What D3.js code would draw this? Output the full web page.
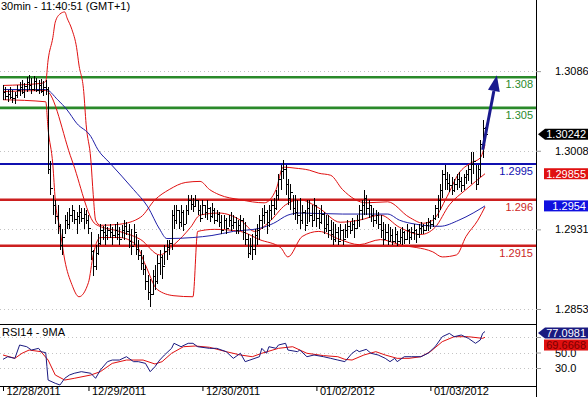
<!DOCTYPE html>
<html><head><meta charset="utf-8">
<script src="https://cdn.jsdelivr.net/npm/d3@7"></script>
<style>body{margin:0;background:#fff;} svg{display:block;font-family:"Liberation Sans",Arial,sans-serif;}</style>
</head><body><svg id="c" width="588" height="397"></svg>
<script>
// ---------- DATA ----------
const title = "30min - 11:40:51 (GMT+1)";
const rsiTitle = "RSI14 - 9MA";
const highs = [
1.3072,1.3070,1.3068,1.3070,1.3068,1.3066,1.3072,1.3075,1.3077,1.3074,
1.3080,1.3082,1.3079,1.3081,1.3079,1.3077,1.3078,1.3076,1.3077,1.3070,
1.2998,1.2965,1.2960,1.2955,1.2936,1.2931,1.2945,1.2948,1.2952,1.2955,
1.2950,1.2948,1.2955,1.2952,1.2952,1.2950,1.2945,1.2928,1.2911,1.2916,
1.2926,1.2936,1.2934,1.2936,1.2933,1.2936,1.2933,1.2936,1.2938,1.2933,
1.2935,1.2940,1.2938,1.2936,1.2931,1.2936,1.2926,1.2921,1.2911,1.2906,
1.2896,1.2886,1.2882,1.2891,1.2896,1.2906,1.2911,1.2906,1.2916,1.2921,
1.2921,1.2950,1.2955,1.2955,1.2950,1.2955,1.2950,1.2955,1.2965,1.2965,
1.2962,1.2965,1.2960,1.2955,1.2960,1.2955,1.2960,1.2953,1.2957,1.2952,
1.2950,1.2948,1.2945,1.2945,1.2942,1.2945,1.2948,1.2945,1.2943,1.2940,
1.2945,1.2942,1.2938,1.2926,1.2923,1.2926,1.2931,1.2936,1.2945,1.2952,
1.2955,1.2950,1.2955,1.2960,1.2962,1.2970,1.2985,1.2994,1.2999,1.2994,
1.2980,1.2975,1.2965,1.2965,1.2960,1.2962,1.2955,1.2950,1.2960,1.2960,
1.2955,1.2962,1.2955,1.2950,1.2955,1.2948,1.2945,1.2945,1.2940,1.2938,
1.2936,1.2933,1.2936,1.2931,1.2936,1.2940,1.2938,1.2942,1.2940,1.2945,
1.2955,1.2960,1.2970,1.2965,1.2960,1.2955,1.2952,1.2950,1.2948,1.2945,
1.2938,1.2936,1.2936,1.2933,1.2931,1.2933,1.2929,1.2931,1.2933,1.2929,
1.2936,1.2931,1.2933,1.2936,1.2931,1.2936,1.2938,1.2936,1.2938,1.2942,
1.2940,1.2945,1.2955,1.2965,1.2975,1.2989,1.2994,1.2987,1.2985,1.2982,
1.2980,1.2985,1.2987,1.2982,1.2985,1.2989,1.2994,1.3007,1.3007,1.2994,
1.2994,1.3019,1.3038,1.3031];
const lows = [
1.3058,1.3058,1.3056,1.3059,1.3055,1.3054,1.3060,1.3062,1.3064,1.3060,
1.3066,1.3068,1.3064,1.3067,1.3066,1.3064,1.3065,1.3062,1.3063,1.2985,
1.2965,1.2945,1.2936,1.2926,1.2911,1.2906,1.2926,1.2931,1.2931,1.2938,
1.2936,1.2926,1.2936,1.2938,1.2931,1.2936,1.2926,1.2901,1.2885,1.2891,
1.2906,1.2916,1.2921,1.2916,1.2921,1.2923,1.2916,1.2923,1.2921,1.2916,
1.2923,1.2921,1.2925,1.2913,1.2906,1.2916,1.2906,1.2901,1.2891,1.2886,
1.2872,1.2862,1.2855,1.2867,1.2872,1.2877,1.2886,1.2882,1.2896,1.2901,
1.2906,1.2911,1.2931,1.2936,1.2931,1.2933,1.2929,1.2936,1.2945,1.2950,
1.2948,1.2953,1.2945,1.2938,1.2945,1.2942,1.2940,1.2938,1.2942,1.2936,
1.2938,1.2933,1.2926,1.2931,1.2926,1.2933,1.2929,1.2931,1.2926,1.2926,
1.2929,1.2921,1.2916,1.2903,1.2906,1.2901,1.2906,1.2916,1.2921,1.2931,
1.2936,1.2926,1.2933,1.2940,1.2945,1.2950,1.2960,1.2970,1.2980,1.2965,
1.2955,1.2950,1.2945,1.2940,1.2936,1.2931,1.2936,1.2929,1.2936,1.2938,
1.2933,1.2940,1.2933,1.2931,1.2936,1.2926,1.2928,1.2923,1.2921,1.2916,
1.2919,1.2916,1.2921,1.2916,1.2923,1.2923,1.2926,1.2929,1.2923,1.2931,
1.2933,1.2940,1.2945,1.2945,1.2942,1.2938,1.2933,1.2936,1.2931,1.2923,
1.2916,1.2921,1.2916,1.2919,1.2916,1.2918,1.2915,1.2917,1.2916,1.2917,
1.2921,1.2917,1.2921,1.2921,1.2918,1.2923,1.2926,1.2926,1.2929,1.2929,
1.2931,1.2933,1.2940,1.2942,1.2950,1.2962,1.2970,1.2970,1.2968,1.2965,
1.2968,1.2970,1.2972,1.2968,1.2970,1.2975,1.2978,1.2975,1.2985,1.2970,
1.2975,1.2982,1.3001,1.3019];
const closes = [
1.3066,1.3062,1.3064,1.3061,1.3060,1.3063,1.3068,1.3070,1.3066,1.3071,
1.3075,1.3072,1.3069,1.3076,1.3068,1.3072,1.3067,1.3070,1.3069,1.2990,
1.2972,1.2955,1.2944,1.2934,1.2916,1.2924,1.2940,1.2936,1.2945,1.2950,
1.2941,1.2944,1.2948,1.2942,1.2946,1.2940,1.2932,1.2910,1.2895,1.2908,
1.2918,1.2930,1.2928,1.2925,1.2930,1.2928,1.2925,1.2930,1.2926,1.2922,
1.2930,1.2934,1.2929,1.2920,1.2915,1.2928,1.2912,1.2906,1.2898,1.2892,
1.2880,1.2870,1.2868,1.2885,1.2880,1.2898,1.2904,1.2895,1.2910,1.2914,
1.2918,1.2945,1.2940,1.2950,1.2938,1.2948,1.2936,1.2950,1.2960,1.2956,
1.2954,1.2960,1.2950,1.2942,1.2955,1.2948,1.2952,1.2944,1.2950,1.2940,
1.2946,1.2938,1.2930,1.2940,1.2932,1.2940,1.2935,1.2938,1.2930,1.2935,
1.2940,1.2928,1.2922,1.2908,1.2915,1.2912,1.2925,1.2930,1.2940,1.2945,
1.2948,1.2938,1.2950,1.2955,1.2952,1.2965,1.2980,1.2988,1.2990,1.2975,
1.2962,1.2968,1.2952,1.2948,1.2945,1.2940,1.2948,1.2935,1.2952,1.2945,
1.2940,1.2955,1.2942,1.2938,1.2946,1.2932,1.2936,1.2930,1.2926,1.2922,
1.2928,1.2920,1.2930,1.2922,1.2930,1.2934,1.2930,1.2936,1.2932,1.2940,
1.2950,1.2955,1.2962,1.2952,1.2955,1.2945,1.2940,1.2945,1.2936,1.2930,
1.2922,1.2928,1.2920,1.2925,1.2920,1.2926,1.2920,1.2924,1.2928,1.2922,
1.2930,1.2924,1.2928,1.2930,1.2926,1.2932,1.2934,1.2930,1.2935,1.2938,
1.2936,1.2942,1.2952,1.2960,1.2970,1.2985,1.2980,1.2976,1.2974,1.2970,
1.2975,1.2980,1.2978,1.2974,1.2982,1.2985,1.2990,1.2995,1.2998,1.2975,
1.2990,1.3015,1.3030,1.30242];

// Bollinger bands and moving average: [bar index, price]
const bbUpper = [[0,1.3072],[16,1.3074],[18,1.3076],[19,1.3097],[21,1.3119],[22,1.3134],[24,1.3142],[26,1.3144],[27,1.3138],[29,1.3127],[31,1.3109],[32,1.3092],[34,1.3066],[35,1.3034],[37,1.2999],[38,1.2965],[39,1.2940],[41,1.2935],[49,1.2936],[58,1.2943],[64,1.2960],[70,1.2970],[77,1.2977],[83,1.2978],[87,1.2970],[91,1.2965],[100,1.2960],[110,1.2957],[115,1.2970],[118,1.2992],[123,1.2991],[129,1.2989],[133,1.2986],[138,1.2984],[143,1.2970],[153,1.2957],[162,1.2958],[171,1.2943],[177,1.2937],[181,1.2940],[187,1.2963],[192,1.2986],[197,1.2996],[201,1.3001],[203,1.3014]];
const bbMid = [[0,1.3066],[18,1.3067],[29,1.2999],[39,1.2936],[49,1.2929],[58,1.2921],[66,1.2906],[72,1.2916],[79,1.2933],[83,1.2945],[91,1.2947],[100,1.2940],[106,1.2929],[112,1.2938],[119,1.2955],[125,1.2960],[133,1.2952],[142,1.2938],[150,1.2940],[159,1.2945],[167,1.2933],[176,1.2926],[182,1.2933],[188,1.2955],[195,1.2970],[203,1.29855]];
const bbLower = [[0,1.3058],[18,1.3056],[19,1.3029],[21,1.2994],[22,1.2960],[24,1.2931],[26,1.2901],[29,1.2877],[32,1.2865],[36,1.2879],[38,1.2906],[40,1.2921],[41,1.2923],[49,1.2923],[56,1.2916],[60,1.2896],[65,1.2872],[72,1.2866],[80,1.2865],[82,1.2929],[89,1.2931],[100,1.2929],[108,1.2921],[117,1.2913],[120,1.2904],[126,1.2924],[133,1.2929],[142,1.2921],[150,1.2916],[159,1.2921],[167,1.2916],[181,1.2909],[185,1.2904],[191,1.2906],[195,1.2924],[200,1.2940],[203,1.2953]];
const maLine = [[0,1.3068],[18,1.3068],[23,1.3058],[27,1.3048],[31,1.3035],[37,1.3022],[40,1.3009],[45,1.2996],[55,1.2970],[61,1.2953],[66,1.2931],[69,1.2922],[80,1.2923],[88,1.2925],[97,1.2929],[108,1.2932],[114,1.2937],[120,1.2945],[125,1.2947],[143,1.2946],[162,1.2946],[167,1.2940],[174,1.2936],[184,1.2934],[192,1.2940],[198,1.2947],[203,1.2954]];

// RSI(14) and its 9-period MA: [bar index, value]
const rsi = [[0,41.2],[2,44.6],[5,42.5],[7,59.7],[10,57.5],[12,53.2],[15,55.4],[16,51.1],[18,49.8],[18.5,31.7],[19,14.5],[22,10.3],[24,8.1],[26,16.7],[28,21],[30,23.2],[33,25.3],[37,23.2],[39,16.7],[41,27.4],[44,38.2],[46,40.3],[49,40.3],[52,44.6],[55,38.2],[57,38.2],[60,36],[62,25.3],[64,31.7],[66,40.3],[68,46.8],[71,55.4],[72,61.9],[75,57.5],[78,61.9],[80,61.9],[82,57.5],[87,55.4],[90,55.4],[94,51.1],[97,42.5],[100,49],[102,38.2],[104,40.3],[108,44.6],[109,55.4],[111,49],[112,57.5],[115,55.4],[116,59.7],[119,61.9],[120,53.2],[124,51.1],[125,53.2],[128,44.6],[131,46.8],[135,44.6],[138,42.5],[141,40.3],[144,38.2],[147,49],[149,53.2],[150,51.1],[153,54.1],[155,49],[158,46.8],[161,42.5],[163,38.2],[165,42.5],[166,38.2],[169,44.6],[172,44.6],[176,44.6],[179,49],[182,57.5],[185,70.4],[188,74.7],[190,70.4],[193,72.6],[196,68.3],[198,64],[199,61.9],[201,66.1],[202,74.7],[203,77.0981]];
const rsiMa = [[0,46.8],[5,42.5],[8,49],[11,53.2],[16,51.1],[19,40.3],[22,21],[26,14.5],[30,16.7],[37,21],[41,25.3],[46,36],[52,40.3],[59,40.3],[64,35.2],[67,38.2],[71,49],[76,57.5],[81,58.4],[87,56.7],[94,51.1],[100,46.8],[105,44.6],[109,49],[116,55.4],[122,57.5],[128,49],[135,46],[141,44.6],[144,41.2],[147,40.3],[152,46.8],[157,51.1],[161,46.8],[166,42.5],[171,42.5],[176,44.6],[180,51.1],[185,64],[190,70.4],[196,70.4],[202,68.3],[203,69.6668]];

const levels = [1.308, 1.305, 1.2995, 1.296, 1.2915];
const levelLabels = ["1.308", "1.305", "1.2995", "1.296", "1.2915"];
const priceTicks = [1.3086, 1.3008, 1.2931, 1.2853];
const rsiGrid = [70, 50, 30];
const rsiTickLabels = [50, 30];
const dateTicks = [0, 36, 84, 132, 180];
const dateLabels = ["12/28/2011", "12/29/2011", "12/30/2011", "01/02/2012", "01/03/2012"];
const lastPrice = 1.30242, lastMid = 1.29855, lastMa = 1.2954;
const lastRsi = 77.0981, lastRsiMa = 69.6668;
const arrowPts = [[202, 1.3009], [208, 1.3082]];

// ---------- STYLE / LAYOUT ----------
const levelColor = ["#2a8a2a", "#2a8a2a", "#1010b0", "#cc1f1f", "#cc1f1f"];
const svg = d3.select("#c");
const plotR = 536, mainB = 324, rsiT = 324, rsiB = 386;
const x = d3.scaleLinear().domain([0, 203]).range([3, 485]);
const y = d3.scaleLinear().domain([1.28383, 1.31557]).range([mainB, 0]);
const yr = d3.scaleLinear().domain([6.8, 86.8]).range([rsiB, rsiT]);

const defs = svg.append("defs");
defs.append("clipPath").attr("id", "cm").append("rect").attr("x", 0).attr("y", 0).attr("width", plotR).attr("height", mainB);
defs.append("clipPath").attr("id", "cr").append("rect").attr("x", 0).attr("y", rsiT).attr("width", plotR).attr("height", rsiB - rsiT);

// gridlines
svg.append("g").selectAll("line").data(priceTicks).join("line")
  .attr("x1", 0).attr("x2", plotR).attr("y1", d => Math.round(y(d)) + 0.5).attr("y2", d => Math.round(y(d)) + 0.5)
  .attr("stroke", "#c4c4c4").attr("stroke-dasharray", "1,3");
svg.append("g").selectAll("line").data(rsiGrid).join("line")
  .attr("x1", 0).attr("x2", plotR).attr("y1", d => Math.round(yr(d)) + 0.5).attr("y2", d => Math.round(yr(d)) + 0.5)
  .attr("stroke", "#c4c4c4").attr("stroke-dasharray", "1,3");

const main = svg.append("g").attr("clip-path", "url(#cm)");
// level lines
main.selectAll("line.lv").data(levels).join("line").attr("class", "lv")
  .attr("x1", 0).attr("x2", plotR).attr("y1", d => y(d)).attr("y2", d => y(d))
  .attr("stroke", (d, i) => levelColor[i]).attr("stroke-width", (d, i) => i === 2 ? 2 : 2.6);
main.selectAll("text.lv").data(levels).join("text").attr("class", "lv")
  .attr("x", 533).attr("y", d => y(d) + 11).attr("text-anchor", "end")
  .attr("font-size", 11).attr("fill", (d, i) => levelColor[i]).text((d, i) => levelLabels[i]);

const line = d3.line().x(d => x(d[0])).y(d => y(d[1])).curve(d3.curveMonotoneX);
[bbUpper, bbMid, bbLower].forEach(s => main.append("path").attr("d", line(s))
  .attr("fill", "none").attr("stroke", "#e01010").attr("stroke-width", 1));
main.append("path").attr("d", line(maLine)).attr("fill", "none").attr("stroke", "#2020a8").attr("stroke-width", 1);

// HLC bars
const bars = main.append("g").attr("stroke", "#000").attr("stroke-width", 1).attr("shape-rendering", "crispEdges");
closes.forEach((c, i) => {
  const xx = Math.round(x(i)) + 0.5;
  bars.append("line").attr("x1", xx).attr("x2", xx).attr("y1", y(highs[i])).attr("y2", y(lows[i]));
  bars.append("line").attr("x1", xx).attr("x2", xx + 2).attr("y1", Math.round(y(c)) + 0.5).attr("y2", Math.round(y(c)) + 0.5);
});

// arrow
{
  const [a, b] = arrowPts.map(p => [x(p[0]), y(p[1])]);
  const ang = Math.atan2(b[1] - a[1], b[0] - a[0]);
  const L = 16, Wd = 6;
  const bx = b[0] - L * Math.cos(ang), by = b[1] - L * Math.sin(ang);
  const nx = -Math.sin(ang), ny = Math.cos(ang);
  svg.append("line").attr("x1", a[0]).attr("y1", a[1]).attr("x2", bx).attr("y2", by)
    .attr("stroke", "#1a1a8e").attr("stroke-width", 3);
  svg.append("path").attr("d", `M${b[0]},${b[1]}L${bx + nx * Wd},${by + ny * Wd}L${bx - nx * Wd},${by - ny * Wd}Z`)
    .attr("fill", "#1a1a8e");
}

// RSI panel
const rg = svg.append("g").attr("clip-path", "url(#cr)");
const rline = d3.line().x(d => x(d[0])).y(d => yr(d[1]));
rg.append("path").attr("d", rline(rsiMa)).attr("fill", "none").attr("stroke", "#e01010").attr("stroke-width", 1);
rg.append("path").attr("d", rline(rsi)).attr("fill", "none").attr("stroke", "#1a1a80").attr("stroke-width", 1);

// frame lines
svg.append("line").attr("x1", 0).attr("x2", plotR).attr("y1", rsiT + 0.5).attr("y2", rsiT + 0.5).attr("stroke", "#000");
svg.append("line").attr("x1", 0).attr("x2", plotR).attr("y1", rsiB + 0.5).attr("y2", rsiB + 0.5).attr("stroke", "#000");
svg.append("line").attr("x1", plotR + 0.5).attr("x2", plotR + 0.5).attr("y1", 0).attr("y2", 397).attr("stroke", "#000");

// axes
const ra = svg.append("g").attr("transform", `translate(${plotR},0)`)
  .call(d3.axisRight(y).tickValues(priceTicks).tickSize(5).tickPadding(14).tickFormat(d3.format(".4f")));
ra.select(".domain").remove();
ra.selectAll("line").attr("stroke", "#999");
ra.selectAll("text").attr("font-size", 11).attr("font-family", "Liberation Sans, Arial, sans-serif").attr("fill", "#000");

const rra = svg.append("g").attr("transform", `translate(${plotR},0)`)
  .call(d3.axisRight(yr).tickValues(rsiGrid).tickSize(5).tickPadding(14).tickFormat(d => rsiTickLabels.includes(d) ? d3.format(".1f")(d) : ""));
rra.select(".domain").remove();
rra.selectAll("line").attr("stroke", "#999");
rra.selectAll("text").attr("font-size", 11).attr("font-family", "Liberation Sans, Arial, sans-serif").attr("fill", "#000");

const da = svg.append("g").attr("transform", `translate(0,${rsiB})`)
  .call(d3.axisBottom(x).tickValues(dateTicks).tickSize(5).tickFormat((d, i) => dateLabels[i]));
da.select(".domain").remove();
da.selectAll("line").attr("stroke", "#000");
da.selectAll("text").attr("font-size", 11).attr("font-family", "Liberation Sans, Arial, sans-serif")
  .attr("text-anchor", "start").attr("dx", 3).attr("y", 1.5).attr("fill", "#000");

// value boxes (stacked so they do not overlap)
const boxH = 11;
function box(cy, bg, fg, arrow, txt) {
  const g = svg.append("g");
  const x0 = 545, x1 = 588;
  if (arrow) {
    g.append("path").attr("d", `M${plotR + 2},${cy}L${x0},${cy - boxH / 2}L${x1},${cy - boxH / 2}L${x1},${cy + boxH / 2}L${x0},${cy + boxH / 2}Z`).attr("fill", bg);
  } else {
    g.append("rect").attr("x", x0 - 1).attr("y", cy - boxH / 2).attr("width", x1 - x0 + 1).attr("height", boxH).attr("fill", bg);
  }
  g.append("text").attr("x", 586).attr("y", cy + 4).attr("text-anchor", "end").attr("font-size", 11).attr("fill", fg).text(txt);
}
box(y(lastPrice), "#000", "#fff", true, "1.30242");
box(y(lastMid), "#e01010", "#fff", false, "1.29855");
box(y(lastMa), "#1010e0", "#fff", false, "1.2954");
const rsiBoxY = yr(lastRsi) + 1.5;
box(rsiBoxY, "#1a1a80", "#fff", true, "77.0981");
box(Math.max(yr(lastRsiMa), rsiBoxY + boxH + 1), "#e01010", "#7a0000", false, "69.6668");

// titles
svg.append("text").attr("x", 1).attr("y", 10).attr("font-size", 11).text(title);
svg.append("text").attr("x", 2).attr("y", 336).attr("font-size", 11).text(rsiTitle);
</script></body></html>
